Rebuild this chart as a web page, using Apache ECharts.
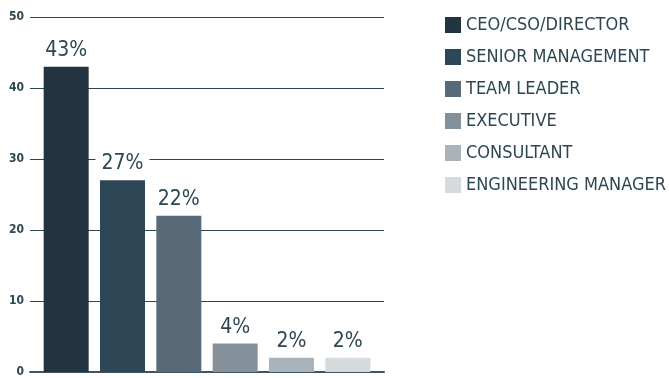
<!DOCTYPE html>
<html>
<head>
<meta charset="utf-8">
<script src="https://cdn.jsdelivr.net/npm/echarts@6/dist/echarts.min.js"></script>
<style>
  html, body { margin: 0; padding: 0; background: #fff; }
  #chart { width: 669px; height: 378px; }
</style>
</head>
<body>
<div id="chart"></div>
<script>
  const ROLES = ['CEO/CSO/DIRECTOR', 'SENIOR MANAGEMENT', 'TEAM LEADER', 'EXECUTIVE', 'CONSULTANT', 'ENGINEERING MANAGER'];
  const SHARES = [43, 27, 22, 4, 2, 2];
  const COLORS = ['#22343f', '#2e4756', '#586a78', '#85919a', '#aab3ba', '#d5dadd'];

  const FONT = '"Liberation Sans Narrow", "DejaVu Sans Condensed", sans-serif';
  const INK = '#2e4552';

  // one series per role, each holding only its own bar, stacked so they share a slot
  const series = ROLES.map(function (name, i) {
    return {
      name: name,
      type: 'bar',
      xAxisIndex: 1,
      yAxisIndex: 1,
      stack: 'all',
      barWidth: 45,
      itemStyle: { color: COLORS[i] },
      data: SHARES.map(function (v, j) { return j === i ? v : '-'; }),
      label: {
        show: true,
        position: 'top',
        distance: 6,
        formatter: '{c}%',
        fontFamily: FONT,
        fontSize: 21,
        color: INK,
        backgroundColor: '#fff',
        padding: [0, 6]
      }
    };
  });

  const chart = echarts.init(document.getElementById('chart'));
  chart.setOption({
    animation: false,
    legend: {
      orient: 'vertical',
      left: 440,
      top: 11,
      icon: 'rect',
      itemWidth: 16,
      itemHeight: 16,
      itemGap: 14,
      textStyle: { fontFamily: FONT, fontSize: 18, color: INK },
      data: ROLES
    },
    grid: [
      { left: 30, right: 285, top: 17, bottom: 6 },
      { left: 38, right: 293, top: 17, bottom: 6 }
    ],
    xAxis: [
      {
        gridIndex: 0, type: 'category', data: [''],
        axisLine: { show: true, lineStyle: { color: '#3d5566', width: 2 } },
        axisTick: { show: false }, axisLabel: { show: false }
      },
      {
        gridIndex: 1, type: 'category', data: ROLES,
        axisLine: { show: false }, axisTick: { show: false }, axisLabel: { show: false }
      }
    ],
    yAxis: [
      {
        gridIndex: 0, type: 'value', min: 0, max: 50, interval: 10,
        axisLine: { show: false }, axisTick: { show: false },
        axisLabel: { margin: 6, fontFamily: FONT, fontWeight: 'bold', fontSize: 12, color: INK },
        splitLine: { lineStyle: { color: INK, width: 1 } }
      },
      {
        gridIndex: 1, type: 'value', min: 0, max: 50, interval: 10, show: false,
        splitLine: { show: false }
      }
    ],
    series: series
  });
</script>
</body>
</html>
